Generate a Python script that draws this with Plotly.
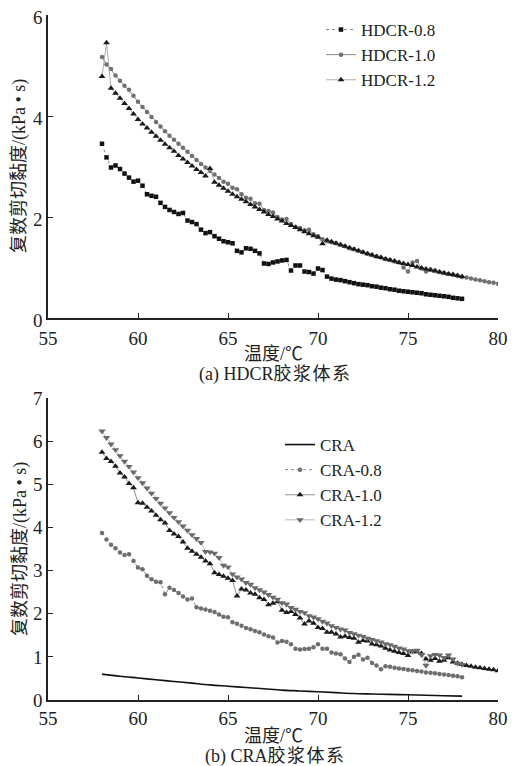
import plotly.graph_objects as go

# Temperature sampling (degC)
TEMP = [
    58.0, 58.25, 58.5, 58.75,
    59.0, 59.25, 59.5, 59.75,
    60.0, 60.25, 60.5, 60.75,
    61.0, 61.25, 61.5, 61.75,
    62.0, 62.25, 62.5, 62.75,
    63.0, 63.25, 63.5, 63.75,
    64.0, 64.25, 64.5, 64.75,
    65.0, 65.25, 65.5, 65.75,
    66.0, 66.25, 66.5, 66.75,
    67.0, 67.25, 67.5, 67.75,
    68.0, 68.25, 68.5, 68.75,
    69.0, 69.25, 69.5, 69.75,
    70.0, 70.25, 70.5, 70.75,
    71.0, 71.25, 71.5, 71.75,
    72.0, 72.25, 72.5, 72.75,
    73.0, 73.25, 73.5, 73.75,
    74.0, 74.25, 74.5, 74.75,
    75.0, 75.25, 75.5, 75.75,
    76.0, 76.25, 76.5, 76.75,
    77.0, 77.25, 77.5, 77.75,
    78.0, 78.25, 78.5, 78.75,
    79.0, 79.25, 79.5, 79.75,
    80.0,
]

TEMP_CRA = [58, 59, 60, 61, 62, 63, 64, 65, 66, 67, 68, 69, 70,
            71, 72, 73, 74, 75, 76, 77, 78]

HDCR_08 = [
    3.45, 3.18, 2.98, 3.02,
    2.95, 2.86, 2.78, 2.70,
    2.72, 2.62, 2.45, 2.42,
    2.40, 2.28, 2.20, 2.14,
    2.10, 2.06, 2.08, 1.93,
    1.90, 1.86, 1.75, 1.68,
    1.70, 1.62, 1.57, 1.52,
    1.50, 1.48, 1.33, 1.30,
    1.38, 1.37, 1.33, 1.28,
    1.08, 1.07, 1.10, 1.12,
    1.14, 1.15, 0.94, 1.04,
    1.04, 0.92, 0.91, 0.88,
    0.98, 0.95, 0.82, 0.78,
    0.76, 0.75, 0.73, 0.71,
    0.69, 0.67, 0.66, 0.65,
    0.63, 0.62, 0.60, 0.59,
    0.57, 0.56, 0.54, 0.53,
    0.52, 0.51, 0.50, 0.49,
    0.47, 0.46, 0.45, 0.44,
    0.43, 0.42, 0.40, 0.39,
    0.38,
]

HDCR_10 = [
    5.17, 5.02, 4.93, 4.80,
    4.70, 4.60, 4.52, 4.40,
    4.28, 4.18, 4.08, 3.98,
    3.88, 3.79, 3.70, 3.61,
    3.53, 3.45, 3.37, 3.29,
    3.21, 3.13, 3.05, 2.98,
    2.91, 2.84, 2.77, 2.70,
    2.66, 2.58, 2.55, 2.45,
    2.38, 2.36, 2.27, 2.26,
    2.14, 2.12, 2.09, 2.00,
    1.95, 1.96, 1.86, 1.80,
    1.78, 1.74, 1.75, 1.66,
    1.62, 1.56, 1.52, 1.50,
    1.48, 1.45, 1.42, 1.38,
    1.36, 1.33, 1.30, 1.27,
    1.25, 1.22, 1.20, 1.17,
    1.15, 1.12, 1.10, 1.00,
    0.92, 1.10, 1.13, 0.98,
    0.92, 0.96, 0.94, 0.91,
    0.89, 0.87, 0.85, 0.83,
    0.81, 0.80, 0.78, 0.76,
    0.75, 0.73, 0.71, 0.70,
    0.68,
]

HDCR_12 = [
    4.78, 5.45, 4.55, 4.45,
    4.35, 4.25, 4.15, 4.04,
    3.93, 3.84, 3.76, 3.68,
    3.60, 3.52, 3.44, 3.37,
    3.30, 3.22, 3.15, 3.08,
    3.01, 2.94, 2.88, 2.81,
    2.96, 2.69, 2.63, 2.57,
    2.51, 2.45, 2.40, 2.35,
    2.30, 2.25, 2.20, 2.15,
    2.10, 2.05, 2.01, 1.96,
    1.92, 1.87, 1.83, 1.79,
    1.75, 1.71, 1.67, 1.63,
    1.60, 1.47, 1.54, 1.51,
    1.48, 1.45, 1.42, 1.39,
    1.36, 1.33, 1.30, 1.27,
    1.25, 1.22, 1.20, 1.17,
    1.15, 1.13, 1.10, 1.08,
    1.06, 1.04, 1.01, 0.99,
    0.97, 0.95, 0.93, 0.91,
    0.89, 0.87, 0.86, 0.84,
    0.82,
]

CRA = [0.60, 0.55, 0.51, 0.47, 0.43, 0.39, 0.35, 0.32, 0.29, 0.26, 0.23,
       0.21, 0.19, 0.17, 0.15, 0.14, 0.13, 0.12, 0.11, 0.10, 0.09]

CRA_08 = [
    3.87, 3.72, 3.60, 3.52,
    3.42, 3.36, 3.38, 3.22,
    3.07, 3.03, 2.88, 2.80,
    2.74, 2.73, 2.45, 2.60,
    2.55, 2.48, 2.40, 2.33,
    2.35, 2.15, 2.12, 2.10,
    2.07, 2.04, 1.98, 1.93,
    1.92, 1.80, 1.77, 1.72,
    1.67, 1.64, 1.60, 1.57,
    1.52, 1.48, 1.45, 1.33,
    1.37, 1.35, 1.29, 1.19,
    1.17, 1.18, 1.19, 1.22,
    1.29, 1.19, 1.19, 1.10,
    1.08, 1.06, 0.96, 0.88,
    1.00, 1.05, 0.94, 0.98,
    0.86, 0.80, 0.71, 0.78,
    0.77, 0.75, 0.73, 0.72,
    0.70, 0.69, 0.67, 0.66,
    0.64, 0.63, 0.62, 0.60,
    0.59, 0.58, 0.56, 0.55,
    0.53,
]

CRA_10 = [
    5.74, 5.60, 5.53, 5.42,
    5.26, 5.17, 5.02, 4.92,
    4.57, 4.56, 4.47, 4.38,
    4.28, 4.18, 4.10, 3.93,
    3.85, 3.79, 3.66, 3.52,
    3.45, 3.38, 3.31, 3.22,
    3.16, 2.95, 2.91, 2.87,
    2.82, 2.77, 2.41, 2.57,
    2.55, 2.48, 2.45, 2.37,
    2.33, 2.21, 2.24, 2.28,
    2.08, 2.03, 2.05, 1.98,
    1.90, 1.76, 1.83, 1.78,
    1.68, 1.66, 1.57, 1.57,
    1.53, 1.46, 1.48, 1.45,
    1.43, 1.34, 1.38, 1.37,
    1.30, 1.28, 1.25, 1.20,
    1.16, 1.13, 1.10, 1.08,
    1.03, 1.12, 1.12, 1.08,
    0.95, 0.92, 0.96, 0.90,
    0.92, 0.98, 0.88, 0.85,
    0.82, 0.80, 0.78, 0.76,
    0.75, 0.73, 0.71, 0.70,
    0.68,
]

CRA_12 = [
    6.23, 6.08, 5.93, 5.80,
    5.66, 5.53, 5.41, 5.28,
    5.15, 5.03, 4.91, 4.79,
    4.67, 4.56, 4.45, 4.34,
    4.23, 4.13, 4.03, 3.93,
    3.83, 3.74, 3.65, 3.44,
    3.43, 3.40, 3.30, 3.12,
    3.08, 2.92, 2.85, 2.80,
    2.72, 2.68, 2.60, 2.55,
    2.50, 2.44, 2.38, 2.33,
    2.25, 2.22, 2.14, 2.10,
    2.05, 2.02, 1.95, 1.92,
    1.88, 1.82, 1.78, 1.72,
    1.68, 1.64, 1.62, 1.56,
    1.53, 1.50, 1.47, 1.43,
    1.40, 1.37, 1.34, 1.30,
    1.28, 1.24, 1.20, 1.18,
    1.14, 1.13, 1.15, 1.05,
    0.80, 1.02, 1.05, 1.04,
    0.98, 1.04, 0.95, 0.85,
    0.82,
]

X_TICKS = [55, 60, 65, 70, 75, 80]
Y_TICKS_A = [0, 2, 4, 6]
Y_TICKS_B = [0, 1, 2, 3, 4, 5, 6, 7]

SERIF = '"Liberation Serif", "Times New Roman", "Noto Sans CJK SC", serif'
OFF = 8  # default body margin of the page
W, H = 526 - OFF, 766 - OFF

fig = go.Figure()

def add(x, y, name, xa, ya, legend, line, marker=None, mode="lines+markers"):
    kw = dict(x=x[:len(y)], y=y, name=name, xaxis=xa, yaxis=ya,
              legend=legend, mode=mode, line=line)
    if marker is not None:
        kw["marker"] = marker
    fig.add_trace(go.Scatter(**kw))

# (a) HDCR
add(TEMP, HDCR_08, "HDCR-0.8", "x", "y", "legend",
    dict(color="#888888", width=1, dash="dot"),
    dict(symbol="square", size=4.5, color="#111111"))
add(TEMP, HDCR_10, "HDCR-1.0", "x", "y", "legend",
    dict(color="#8a8a8a", width=1),
    dict(symbol="circle", size=4.5, color="#707070"))
add(TEMP, HDCR_12, "HDCR-1.2", "x", "y", "legend",
    dict(color="#999999", width=0.8),
    dict(symbol="triangle-up", size=6, color="#1a1a1a"))

# (b) CRA
add(TEMP_CRA, CRA, "CRA", "x2", "y2", "legend2",
    dict(color="#111111", width=1.6, shape="spline"), mode="lines")
add(TEMP, CRA_08, "CRA-0.8", "x2", "y2", "legend2",
    dict(color="#888888", width=1, dash="dot"),
    dict(symbol="circle", size=4.5, color="#6e6e6e"))
add(TEMP, CRA_10, "CRA-1.0", "x2", "y2", "legend2",
    dict(color="#777777", width=0.8),
    dict(symbol="triangle-up", size=6, color="#1a1a1a"))
add(TEMP, CRA_12, "CRA-1.2", "x2", "y2", "legend2",
    dict(color="#aaaaaa", width=0.8),
    dict(symbol="triangle-down", size=6.5, color="#6a6a6a"))

def px_x(p):
    return (p - OFF) / W

def px_y(p):
    return 1 - (p - OFF) / H

axis_common = dict(showgrid=False, zeroline=False, showline=True,
                   linecolor="#222222", linewidth=1.5, ticks="inside",
                   ticklen=5, tickwidth=1.2, tickcolor="#222222",
                   tickfont=dict(family=SERIF, size=19, color="#222222"),
                   mirror=False, automargin=False, ticklabeloverflow="allow")

fig.update_layout(
    width=W, height=H, margin=dict(l=0, r=0, t=0, b=0, autoexpand=False),
    paper_bgcolor="white", plot_bgcolor="white",
    xaxis=dict(domain=[px_x(48), px_x(498)], range=[55, 80],
               tickvals=X_TICKS, anchor="y", ticklabelstandoff=2,
               **axis_common),
    yaxis=dict(domain=[px_y(318), px_y(15)], range=[0, 6],
               tickvals=Y_TICKS_A, anchor="x", ticklabelshift=2,
               **axis_common),
    xaxis2=dict(domain=[px_x(48), px_x(498)], range=[55, 80],
                tickvals=X_TICKS, anchor="y2", **axis_common),
    yaxis2=dict(domain=[px_y(700), px_y(398)], range=[0, 7],
                tickvals=Y_TICKS_B, anchor="x2", **axis_common),
    legend=dict(x=px_x(321), y=px_y(12), xanchor="left", yanchor="top",
                bgcolor="rgba(0,0,0,0)", tracegroupgap=0,
                font=dict(family=SERIF, size=17, color="#222222")),
    legend2=dict(x=px_x(280), y=px_y(427), xanchor="left", yanchor="top",
                 bgcolor="rgba(0,0,0,0)", tracegroupgap=0,
                 font=dict(family=SERIF, size=17, color="#222222")),
    showlegend=True,
)

ann_font = dict(family=SERIF, size=18, color="#222222")
HS = "\u200a"
annotations = [
    dict(text="温度/℃", x=px_x(273), y=px_y(354)),
    dict(text="(a) HDCR胶" + HS + "浆" + HS + "体" + HS + "系", x=px_x(274), y=px_y(374)),
    dict(text="温度/℃", x=px_x(273), y=px_y(736)),
    dict(text="(b) CRA胶" + HS + "浆" + HS + "体" + HS + "系", x=px_x(274), y=px_y(756)),
    dict(text="复数剪切黏度/(kPa • s)", x=px_x(20), y=px_y(166), textangle=-90),
    dict(text="复数剪切黏度/(kPa • s)", x=px_x(20), y=px_y(549), textangle=-90),
]
for a in annotations:
    fig.add_annotation(xref="paper", yref="paper", showarrow=False,
                       xanchor="center", yanchor="middle", font=ann_font, **a)

fig.write_html("out.html")
